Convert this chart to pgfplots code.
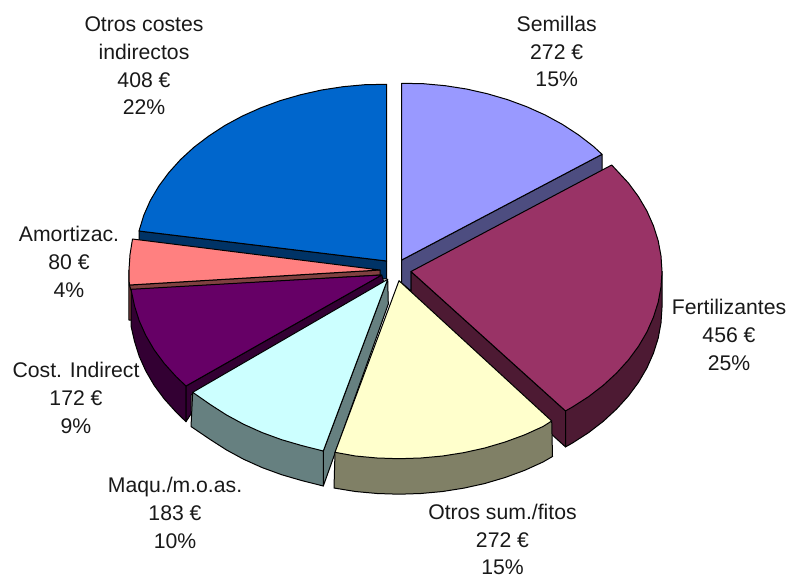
\documentclass[border=0pt]{standalone}
\usepackage{fontspec}
\setmainfont{Liberation Sans}
\usepackage{pgfplots}
\pgfplotsset{compat=1.18}
\definecolor{lav}{HTML}{9999FF}
\definecolor{lavd}{HTML}{4D4D80}
\definecolor{plum}{HTML}{993366}
\definecolor{plumd}{HTML}{4D1A33}
\definecolor{yel}{HTML}{FFFFCC}
\definecolor{yeld}{HTML}{808066}
\definecolor{cya}{HTML}{CCFFFF}
\definecolor{cyad}{HTML}{668080}
\definecolor{pur}{HTML}{660066}
\definecolor{purd}{HTML}{330033}
\definecolor{pnk}{HTML}{FF8080}
\definecolor{pnkd}{HTML}{804040}
\definecolor{blu}{HTML}{0066CC}
\definecolor{blud}{HTML}{003366}
\tikzset{lab/.style={font=\fontsize{21.2}{27.7}\selectfont, align=center, text=black!90, inner sep=0pt}}
\begin{document}
\begin{tikzpicture}
\useasboundingbox (0,0) rectangle (789pt,576pt);
\begin{axis}[
    at={(0,0)}, anchor=south west,
    scale only axis,
    width=789pt, height=576pt,
    xmin=0, xmax=789, ymin=0, ymax=576,
    y dir=reverse,
    hide axis,
    clip=false,
    every axis plot/.append style={draw=black, line width=1pt, line join=round, mark=none},
]
% Semillas: side, top
\addplot[fill=lavd] coordinates {(401.7,260) (602,154.3) (602,175) (411,272) (411,291) (401.7,283)} -- cycle;
\addplot[fill=lav] coordinates {(401.7,260) (401.7,83.3) (423.5,83.7) (445.2,85.7) (466.4,89) (487.2,93.7) (507.4,99.6) (526.7,106.7) (545.2,115) (562.4,124.4) (578.5,134.9) (593.2,146.2) (602,154.3)} -- cycle;
% Otros costes indirectos
\addplot[fill=blud] coordinates {(139,231) (386.7,261) (386.7,279) (139,262)} -- cycle;
\addplot[fill=blu] coordinates {(386.7,261) (386.7,84.3) (364.8,84.7) (343,86.7) (321.6,90) (300.7,94.7) (280.3,100.6) (261,107.7) (242.4,116) (225,125.4) (208.9,135.9) (194,147.2) (180.7,159.4) (168.9,172.5) (158.8,186.1) (150.3,200.5) (143.8,215.2) (139,231)} -- cycle;
% Amortizac.
\addplot[fill=pnkd] coordinates {(128.8,270) (128.8,320) (132,320) (132,285)} -- cycle;
\addplot[fill=pnkd] coordinates {(129.3,285) (380,270) (380,275) (131,290)} -- cycle;
\addplot[fill=pnk] coordinates {(380,270) (132.5,239) (130,254.6) (129,270) (129.3,285)} -- cycle;
% Cost. Indirect
\addplot[fill=purd] coordinates {(131,289.3) (131,325.9) (134.5,341.3) (139.2,356.3) (145.8,371) (154.2,385.4) (164.3,399) (176.1,412.1) (186,421.7) (186,386)} -- cycle;
\addplot[fill=purd] coordinates {(186,386) (186,421.7) (191,414) (191,395) (384,283) (381.7,275)} -- cycle;
\addplot[fill=pur] coordinates {(381.7,275) (131,289.3) (134.5,305.8) (139.2,320.8) (145.8,335.5) (154.2,349.9) (164.3,363.5) (176.1,376.6) (186,386)} -- cycle;
% Fertilizantes
\addplot[fill=plumd] coordinates {(411,271.5) (565.5,410.9) (565.5,446.9) (411,307)} -- cycle;
\addplot[fill=plumd] coordinates {(662,271.5) (662,307.5) (661,322.9) (658.2,338.2) (653.4,353.3) (646.9,368) (638.5,382.3) (628.4,396) (616.6,409) (603.3,421.3) (588.5,432.7) (572.3,443.1) (565.5,446.9) (565.5,410.9)} -- cycle;
\addplot[fill=plum] coordinates {(411,271.5) (611.7,165) (628.4,183) (638.5,196.7) (646.9,211) (653.4,225.7) (658.2,240.8) (661,256) (662,271.5) (661,286.9) (658.2,302.2) (653.4,317.3) (646.9,332) (638.5,346.3) (628.4,360) (616.6,373) (603.3,385.3) (588.5,396.7) (572.3,407.1) (565.5,410.9)} -- cycle;
% Maqu./m.o.as.
\addplot[fill=cyad] coordinates {(387.7,279.3) (388.3,304) (323.3,486) (323.3,451)} -- cycle;
\addplot[fill=cyad] coordinates {(192.7,392.3) (191,426.5) (210.2,439.5) (226.4,449.9) (243.7,459.3) (262.2,467.6) (281.6,474.7) (301.9,480.6) (323.3,486) (323.3,451)} -- cycle;
\addplot[fill=cya] coordinates {(387.7,279.3) (192.7,392.3) (210.2,404.5) (226.4,414.9) (243.7,424.3) (262.2,432.6) (281.6,439.7) (301.9,445.6) (323.3,451)} -- cycle;
% Otros sum./fitos
\addplot[fill=yeld] coordinates {(335,452.3) (334,488) (355.4,491.5) (377.1,493.5) (399,494.2) (420.9,493.5) (442.6,491.5) (464,488.1) (484.8,483.5) (505.1,477.5) (524.5,470.4) (543,462) (552.5,456.5) (551.7,421)} -- cycle;
\addplot[fill=yel] coordinates {(399,280.7) (335,452.3) (355.4,456) (377.1,458) (399,458.7) (420.9,458) (442.6,456) (464,452.6) (484.8,448) (505.1,442) (524.5,434.9) (543,426.5) (551.7,421)} -- cycle;
% labels
\node[lab] at (axis cs:144,66) {Otros costes\\indirectos\\408 €\\22\%};
\node[lab] at (axis cs:556.7,51.5) {Semillas\\272 €\\15\%};
\node[lab] at (axis cs:729,335) {Fertilizantes\\456 €\\25\%};
\node[lab] at (axis cs:502.5,539.5) {Otros sum./fitos\\272 €\\15\%};
\node[lab] at (axis cs:175,513) {Maqu./m.o.as.\\183 €\\10\%};
\node[lab] at (axis cs:76,398) {Cost. Indirect\\172 €\\9\%};
\node[lab] at (axis cs:69,262) {Amortizac.\\80 €\\4\%};
\end{axis}
\end{tikzpicture}
\end{document}
